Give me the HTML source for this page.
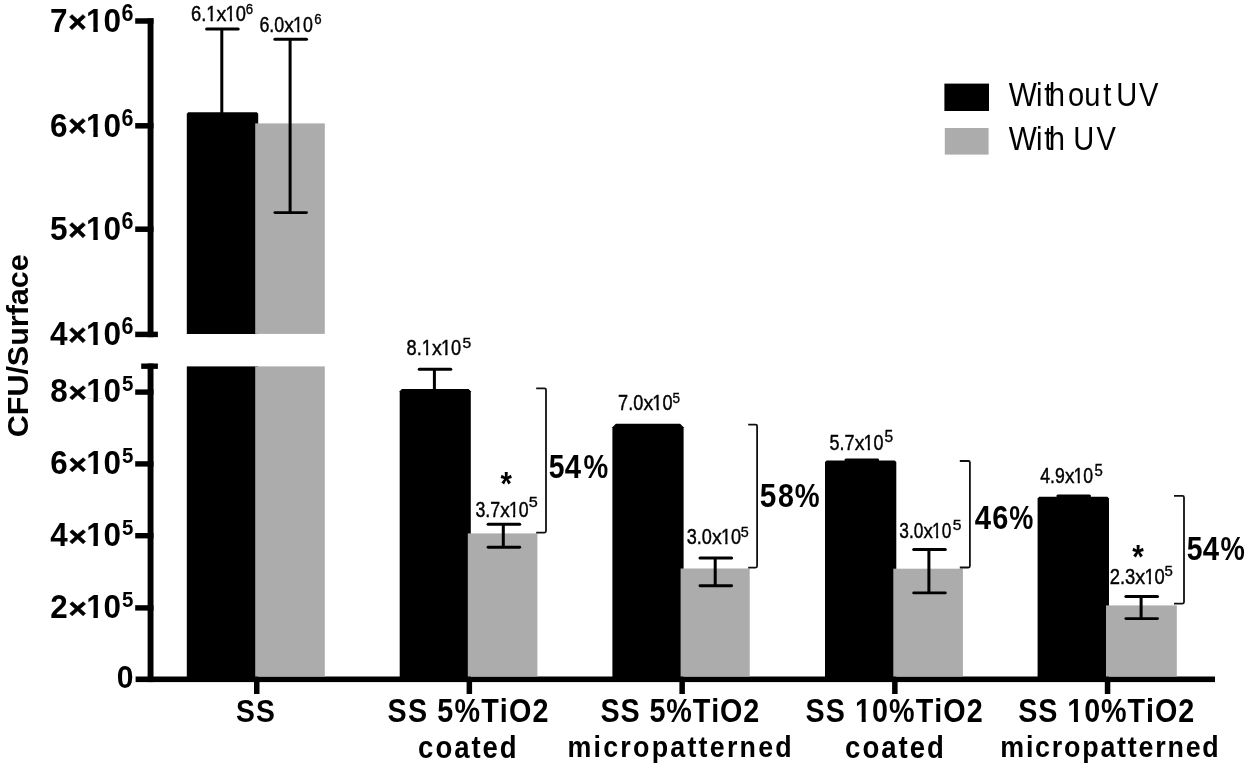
<!DOCTYPE html>
<html><head><meta charset="utf-8"><title>CFU/Surface bar chart</title><style>
html,body{margin:0;padding:0;background:#fff;width:1250px;height:769px;overflow:hidden}
svg{display:block;will-change:transform}
text{font-family:"Liberation Sans",sans-serif}
</style></head><body>
<svg width="1250" height="769" viewBox="0 0 1250 769">
<defs><clipPath id="c10"><rect x="-50" y="-200" width="200" height="195.80"/><rect x="7.72" y="-200" width="4.67" height="210"/></clipPath><clipPath id="c11"><rect x="-50" y="-200" width="200" height="195.90"/><rect x="7.50" y="-200" width="4.54" height="210"/></clipPath><clipPath id="c12"><rect x="-50" y="-200" width="200" height="197.59"/><rect x="5.13" y="-200" width="2.52" height="210"/></clipPath><clipPath id="c13"><rect x="-50" y="-200" width="200" height="197.58"/><rect x="5.16" y="-200" width="2.53" height="210"/></clipPath><clipPath id="c14"><rect x="-50" y="-200" width="200" height="197.60"/><rect x="5.09" y="-200" width="2.51" height="210"/></clipPath><clipPath id="c15"><rect x="-50" y="-200" width="200" height="197.54"/><rect x="5.27" y="-200" width="2.57" height="210"/></clipPath><clipPath id="c16"><rect x="-50" y="-200" width="200" height="197.53"/><rect x="5.32" y="-200" width="2.59" height="210"/></clipPath><clipPath id="c17"><rect x="-50" y="-200" width="200" height="197.52"/><rect x="5.35" y="-200" width="2.60" height="210"/></clipPath><clipPath id="c18"><rect x="-50" y="-200" width="200" height="197.57"/><rect x="5.18" y="-200" width="2.54" height="210"/></clipPath><clipPath id="c19"><rect x="-50" y="-200" width="200" height="197.52"/><rect x="5.35" y="-200" width="2.60" height="210"/></clipPath><clipPath id="c110"><rect x="-50" y="-200" width="200" height="195.87"/><rect x="7.57" y="-200" width="4.58" height="210"/></clipPath></defs>
<rect width="1250" height="769" fill="#fff"/>
<rect x="147.6" y="18.3" width="5.9" height="318.9" fill="#000"/>
<rect x="135.2" y="18.25" width="18.3" height="5.5" fill="#000"/>
<rect x="135.2" y="123.05" width="18.3" height="5.5" fill="#000"/>
<rect x="135.2" y="226.45" width="18.3" height="5.5" fill="#000"/>
<rect x="135.2" y="331.65" width="22.7" height="5.5" fill="#000"/>
<rect x="147.6" y="363.5" width="5.9" height="318.6" fill="#000"/>
<rect x="141.2" y="363.5" width="16.7" height="5.4" fill="#000"/>
<rect x="135.2" y="389.40" width="18.3" height="5.4" fill="#000"/>
<rect x="135.2" y="461.20" width="18.3" height="5.4" fill="#000"/>
<rect x="135.2" y="533.00" width="18.3" height="5.4" fill="#000"/>
<rect x="135.2" y="605.20" width="18.3" height="5.4" fill="#000"/>
<rect x="135.6" y="676.5" width="1079.4" height="5.6" fill="#000"/>
<path d="M186.80,333.90 V113.70 L188.20,112.30 H256.80 L258.20,113.70 V333.90 Z" fill="#000"/>
<rect x="255.2" y="123.4" width="69.60" height="210.50" fill="#acacac"/>
<rect x="186.8" y="366.4" width="71.40" height="312.60" fill="#000"/>
<rect x="255.2" y="366.4" width="69.60" height="310.10" fill="#acacac"/>
<rect x="254.00" y="680" width="5.5" height="14" fill="#000"/>
<path d="M399.70,679.00 V391.20 L401.90,389.00 H468.60 L470.80,391.20 V679.00 Z" fill="#000"/>
<rect x="467.8" y="533.4" width="69.60" height="143.10" fill="#acacac"/>
<rect x="466.60" y="680" width="5.5" height="14" fill="#000"/>
<path d="M612.40,679.00 V427.30 L615.90,423.80 H680.10 L683.60,427.30 V679.00 Z" fill="#000"/>
<rect x="680.6" y="568.5" width="69.10" height="108.00" fill="#acacac"/>
<rect x="679.40" y="680" width="5.5" height="14" fill="#000"/>
<path d="M825.00,679.00 V462.00 L826.60,460.40 H894.70 L896.30,462.00 V679.00 Z" fill="#000"/>
<rect x="893.3" y="568.7" width="69.60" height="107.80" fill="#acacac"/>
<rect x="892.10" y="680" width="5.5" height="14" fill="#000"/>
<path d="M1037.60,679.00 V498.40 L1039.20,496.80 H1107.40 L1109.00,498.40 V679.00 Z" fill="#000"/>
<rect x="1106.0" y="605.4" width="70.80" height="71.10" fill="#acacac"/>
<rect x="1104.80" y="680" width="5.5" height="14" fill="#000"/>
<rect x="220.30" y="28.90" width="3.0" height="84.10" fill="#000"/><line x1="206.60" y1="28.90" x2="238.20" y2="28.90" stroke="#000" stroke-width="3" stroke-linecap="round"/>
<rect x="288.60" y="39.30" width="3.0" height="173.30" fill="#000"/><line x1="274.90" y1="39.30" x2="306.50" y2="39.30" stroke="#000" stroke-width="3" stroke-linecap="round"/><line x1="274.90" y1="212.60" x2="306.50" y2="212.60" stroke="#000" stroke-width="2.9" stroke-linecap="round"/>
<rect x="432.90" y="369.30" width="3.0" height="20.20" fill="#000"/><line x1="419.20" y1="369.30" x2="450.80" y2="369.30" stroke="#000" stroke-width="3" stroke-linecap="round"/>
<rect x="501.80" y="524.30" width="3.0" height="23.00" fill="#000"/><line x1="488.10" y1="524.30" x2="519.70" y2="524.30" stroke="#000" stroke-width="3" stroke-linecap="round"/><line x1="488.10" y1="547.30" x2="519.70" y2="547.30" stroke="#000" stroke-width="2.9" stroke-linecap="round"/>
<rect x="713.70" y="558.00" width="3.0" height="27.80" fill="#000"/><line x1="700.00" y1="558.00" x2="731.60" y2="558.00" stroke="#000" stroke-width="3" stroke-linecap="round"/><line x1="700.00" y1="585.80" x2="731.60" y2="585.80" stroke="#000" stroke-width="2.9" stroke-linecap="round"/>
<rect x="859.70" y="460.00" width="3.0" height="1.00" fill="#000"/><line x1="846.00" y1="460.00" x2="877.60" y2="460.00" stroke="#000" stroke-width="3" stroke-linecap="round"/>
<rect x="927.40" y="549.50" width="3.0" height="43.40" fill="#000"/><line x1="913.70" y1="549.50" x2="945.30" y2="549.50" stroke="#000" stroke-width="3" stroke-linecap="round"/><line x1="913.70" y1="592.90" x2="945.30" y2="592.90" stroke="#000" stroke-width="2.9" stroke-linecap="round"/>
<rect x="1071.60" y="496.10" width="3.0" height="1.40" fill="#000"/><line x1="1057.90" y1="496.10" x2="1089.50" y2="496.10" stroke="#000" stroke-width="3" stroke-linecap="round"/>
<rect x="1139.60" y="596.60" width="3.0" height="22.00" fill="#000"/><line x1="1125.90" y1="596.60" x2="1157.50" y2="596.60" stroke="#000" stroke-width="3" stroke-linecap="round"/><line x1="1125.90" y1="618.60" x2="1157.50" y2="618.60" stroke="#000" stroke-width="2.9" stroke-linecap="round"/>
<path d="M536.2,388.3 H544.5 Q546.0,388.3 546.0,389.8 V531.1 Q546.0,532.6 544.5,532.6 H536.2" fill="none" stroke="#111" stroke-width="1.8"/>
<path d="M748.2,424.6 H755.6 Q757.1,424.6 757.1,426.1 V566.1 Q757.1,567.6 755.6,567.6 H748.2" fill="none" stroke="#111" stroke-width="1.8"/>
<path d="M959.8,461.0 H968.4 Q969.9,461.0 969.9,462.5 V566.0 Q969.9,567.5 968.4,567.5 H959.8" fill="none" stroke="#111" stroke-width="1.8"/>
<path d="M1174.0,495.9 H1182.5 Q1184.0,495.9 1184.0,497.4 V602.1 Q1184.0,603.6 1182.5,603.6 H1174.0" fill="none" stroke="#111" stroke-width="1.8"/>
<rect x="944.4" y="83.6" width="44.6" height="27.4" fill="#000"/>
<rect x="944.8" y="128" width="43.8" height="26.6" fill="#acacac"/>
<text transform="matrix(0.9477,0,0,1.0000,50.04,31.70)" font-family="Liberation Sans, sans-serif" font-weight="bold" font-size="33.29">7</text>
<text transform="matrix(0.9477,0,0,0.8800,68.29,31.57)" font-family="Liberation Sans, sans-serif" font-weight="bold" font-size="33.29" stroke="#000" stroke-width="0.6">×</text>
<text transform="matrix(0.9477,0,0,1.0000,86.01,31.70)" font-family="Liberation Sans, sans-serif" font-weight="bold" font-size="33.29" clip-path="url(#c10)">1</text>
<text transform="matrix(0.9477,0,0,1.0000,103.55,31.70)" font-family="Liberation Sans, sans-serif" font-weight="bold" font-size="33.29">0</text>
<text transform="matrix(0.9477,0,0,1.0000,50.04,136.50)" font-family="Liberation Sans, sans-serif" font-weight="bold" font-size="33.29">6</text>
<text transform="matrix(0.9477,0,0,0.8800,68.29,136.37)" font-family="Liberation Sans, sans-serif" font-weight="bold" font-size="33.29" stroke="#000" stroke-width="0.6">×</text>
<text transform="matrix(0.9477,0,0,1.0000,86.01,136.50)" font-family="Liberation Sans, sans-serif" font-weight="bold" font-size="33.29" clip-path="url(#c10)">1</text>
<text transform="matrix(0.9477,0,0,1.0000,103.55,136.50)" font-family="Liberation Sans, sans-serif" font-weight="bold" font-size="33.29">0</text>
<text transform="matrix(0.9477,0,0,1.0000,50.04,239.90)" font-family="Liberation Sans, sans-serif" font-weight="bold" font-size="33.29">5</text>
<text transform="matrix(0.9477,0,0,0.8800,68.29,239.77)" font-family="Liberation Sans, sans-serif" font-weight="bold" font-size="33.29" stroke="#000" stroke-width="0.6">×</text>
<text transform="matrix(0.9477,0,0,1.0000,86.01,239.90)" font-family="Liberation Sans, sans-serif" font-weight="bold" font-size="33.29" clip-path="url(#c10)">1</text>
<text transform="matrix(0.9477,0,0,1.0000,103.55,239.90)" font-family="Liberation Sans, sans-serif" font-weight="bold" font-size="33.29">0</text>
<text transform="matrix(0.9477,0,0,1.0000,50.04,345.10)" font-family="Liberation Sans, sans-serif" font-weight="bold" font-size="33.29">4</text>
<text transform="matrix(0.9477,0,0,0.8800,68.29,344.97)" font-family="Liberation Sans, sans-serif" font-weight="bold" font-size="33.29" stroke="#000" stroke-width="0.6">×</text>
<text transform="matrix(0.9477,0,0,1.0000,86.01,345.10)" font-family="Liberation Sans, sans-serif" font-weight="bold" font-size="33.29" clip-path="url(#c10)">1</text>
<text transform="matrix(0.9477,0,0,1.0000,103.55,345.10)" font-family="Liberation Sans, sans-serif" font-weight="bold" font-size="33.29">0</text>
<text transform="matrix(0.9121,0,0,1.0000,121.61,20.87)" font-family="Liberation Sans, sans-serif" font-weight="bold" font-size="23.59">6</text>
<text transform="matrix(0.9121,0,0,1.0000,121.61,125.67)" font-family="Liberation Sans, sans-serif" font-weight="bold" font-size="23.59">6</text>
<text transform="matrix(0.9121,0,0,1.0000,121.61,229.07)" font-family="Liberation Sans, sans-serif" font-weight="bold" font-size="23.59">6</text>
<text transform="matrix(0.9121,0,0,1.0000,121.61,334.27)" font-family="Liberation Sans, sans-serif" font-weight="bold" font-size="23.59">6</text>
<text transform="matrix(0.9716,0,0,1.0000,50.30,402.38)" font-family="Liberation Sans, sans-serif" font-weight="bold" font-size="32.34">8</text>
<text transform="matrix(0.9716,0,0,0.8800,68.48,402.29)" font-family="Liberation Sans, sans-serif" font-weight="bold" font-size="32.34" stroke="#000" stroke-width="0.6">×</text>
<text transform="matrix(0.9716,0,0,1.0000,86.13,402.38)" font-family="Liberation Sans, sans-serif" font-weight="bold" font-size="32.34" clip-path="url(#c11)">1</text>
<text transform="matrix(0.9716,0,0,1.0000,103.61,402.38)" font-family="Liberation Sans, sans-serif" font-weight="bold" font-size="32.34">0</text>
<text transform="matrix(0.9716,0,0,1.0000,50.30,474.18)" font-family="Liberation Sans, sans-serif" font-weight="bold" font-size="32.34">6</text>
<text transform="matrix(0.9716,0,0,0.8800,68.48,474.09)" font-family="Liberation Sans, sans-serif" font-weight="bold" font-size="32.34" stroke="#000" stroke-width="0.6">×</text>
<text transform="matrix(0.9716,0,0,1.0000,86.13,474.18)" font-family="Liberation Sans, sans-serif" font-weight="bold" font-size="32.34" clip-path="url(#c11)">1</text>
<text transform="matrix(0.9716,0,0,1.0000,103.61,474.18)" font-family="Liberation Sans, sans-serif" font-weight="bold" font-size="32.34">0</text>
<text transform="matrix(0.9716,0,0,1.0000,50.30,545.98)" font-family="Liberation Sans, sans-serif" font-weight="bold" font-size="32.34">4</text>
<text transform="matrix(0.9716,0,0,0.8800,68.48,545.89)" font-family="Liberation Sans, sans-serif" font-weight="bold" font-size="32.34" stroke="#000" stroke-width="0.6">×</text>
<text transform="matrix(0.9716,0,0,1.0000,86.13,545.98)" font-family="Liberation Sans, sans-serif" font-weight="bold" font-size="32.34" clip-path="url(#c11)">1</text>
<text transform="matrix(0.9716,0,0,1.0000,103.61,545.98)" font-family="Liberation Sans, sans-serif" font-weight="bold" font-size="32.34">0</text>
<text transform="matrix(0.9716,0,0,1.0000,50.30,618.18)" font-family="Liberation Sans, sans-serif" font-weight="bold" font-size="32.34">2</text>
<text transform="matrix(0.9716,0,0,0.8800,68.48,618.09)" font-family="Liberation Sans, sans-serif" font-weight="bold" font-size="32.34" stroke="#000" stroke-width="0.6">×</text>
<text transform="matrix(0.9716,0,0,1.0000,86.13,618.18)" font-family="Liberation Sans, sans-serif" font-weight="bold" font-size="32.34" clip-path="url(#c11)">1</text>
<text transform="matrix(0.9716,0,0,1.0000,103.61,618.18)" font-family="Liberation Sans, sans-serif" font-weight="bold" font-size="32.34">0</text>
<text transform="matrix(0.8996,0,0,1.0000,122.07,391.48)" font-family="Liberation Sans, sans-serif" font-weight="bold" font-size="22.79">5</text>
<text transform="matrix(0.8996,0,0,1.0000,122.07,463.28)" font-family="Liberation Sans, sans-serif" font-weight="bold" font-size="22.79">5</text>
<text transform="matrix(0.8996,0,0,1.0000,122.07,535.08)" font-family="Liberation Sans, sans-serif" font-weight="bold" font-size="22.79">5</text>
<text transform="matrix(0.8996,0,0,1.0000,122.07,607.28)" font-family="Liberation Sans, sans-serif" font-weight="bold" font-size="22.79">5</text>
<text transform="matrix(0.9721,0,0,1.0000,116.81,688.10)" font-family="Liberation Sans, sans-serif" font-weight="bold" font-size="30.93">0</text>
<text transform="matrix(0,-1,0.9847,0,28.29,437.23)" font-family="Liberation Sans, sans-serif" font-weight="bold" font-size="30.48">CFU/Surface</text>
<text transform="matrix(0.8468,0,0,1.0000,190.97,20.89)" font-family="Liberation Sans, sans-serif" font-weight="normal" font-size="21.61" stroke="#000" stroke-width="0.45">6</text>
<text transform="matrix(0.8468,0,0,1.0000,201.15,20.89)" font-family="Liberation Sans, sans-serif" font-weight="normal" font-size="21.61" stroke="#000" stroke-width="0.45">.</text>
<text transform="matrix(0.8468,0,0,1.0000,206.23,20.89)" font-family="Liberation Sans, sans-serif" font-weight="normal" font-size="21.61" clip-path="url(#c12)" stroke="#000" stroke-width="0.45">1</text>
<text transform="matrix(0.9146,0,0,0.9000,216.54,20.89)" font-family="Liberation Sans, sans-serif" font-weight="normal" font-size="21.61" stroke="#000" stroke-width="0.45">x</text>
<text transform="matrix(0.8468,0,0,1.0000,225.56,20.89)" font-family="Liberation Sans, sans-serif" font-weight="normal" font-size="21.61" clip-path="url(#c12)" stroke="#000" stroke-width="0.45">1</text>
<text transform="matrix(0.8468,0,0,1.0000,235.74,20.89)" font-family="Liberation Sans, sans-serif" font-weight="normal" font-size="21.61" stroke="#000" stroke-width="0.45">0</text>
<text transform="matrix(0.8587,0,0,1.0000,245.73,13.65)" font-family="Liberation Sans, sans-serif" font-weight="normal" font-size="15.40" stroke="#000" stroke-width="0.35">6</text>
<text transform="matrix(0.8192,0,0,1.0000,259.40,31.59)" font-family="Liberation Sans, sans-serif" font-weight="normal" font-size="21.75" stroke="#000" stroke-width="0.45">6</text>
<text transform="matrix(0.8192,0,0,1.0000,269.31,31.59)" font-family="Liberation Sans, sans-serif" font-weight="normal" font-size="21.75" stroke="#000" stroke-width="0.45">.</text>
<text transform="matrix(0.8192,0,0,1.0000,274.26,31.59)" font-family="Liberation Sans, sans-serif" font-weight="normal" font-size="21.75" stroke="#000" stroke-width="0.45">0</text>
<text transform="matrix(0.8848,0,0,0.9000,284.31,31.59)" font-family="Liberation Sans, sans-serif" font-weight="normal" font-size="21.75" stroke="#000" stroke-width="0.45">x</text>
<text transform="matrix(0.8192,0,0,1.0000,293.08,31.59)" font-family="Liberation Sans, sans-serif" font-weight="normal" font-size="21.75" clip-path="url(#c13)" stroke="#000" stroke-width="0.45">1</text>
<text transform="matrix(0.8192,0,0,1.0000,302.99,31.59)" font-family="Liberation Sans, sans-serif" font-weight="normal" font-size="21.75" stroke="#000" stroke-width="0.45">0</text>
<text transform="matrix(0.8830,0,0,1.0000,314.33,24.25)" font-family="Liberation Sans, sans-serif" font-weight="normal" font-size="14.97" stroke="#000" stroke-width="0.35">6</text>
<text transform="matrix(0.8471,0,0,1.0000,406.61,355.39)" font-family="Liberation Sans, sans-serif" font-weight="normal" font-size="21.47" stroke="#000" stroke-width="0.45">8</text>
<text transform="matrix(0.8471,0,0,1.0000,416.72,355.39)" font-family="Liberation Sans, sans-serif" font-weight="normal" font-size="21.47" stroke="#000" stroke-width="0.45">.</text>
<text transform="matrix(0.8471,0,0,1.0000,421.78,355.39)" font-family="Liberation Sans, sans-serif" font-weight="normal" font-size="21.47" clip-path="url(#c14)" stroke="#000" stroke-width="0.45">1</text>
<text transform="matrix(0.9148,0,0,0.9000,432.03,355.39)" font-family="Liberation Sans, sans-serif" font-weight="normal" font-size="21.47" stroke="#000" stroke-width="0.45">x</text>
<text transform="matrix(0.8471,0,0,1.0000,440.98,355.39)" font-family="Liberation Sans, sans-serif" font-weight="normal" font-size="21.47" clip-path="url(#c14)" stroke="#000" stroke-width="0.45">1</text>
<text transform="matrix(0.8471,0,0,1.0000,451.10,355.39)" font-family="Liberation Sans, sans-serif" font-weight="normal" font-size="21.47" stroke="#000" stroke-width="0.45">0</text>
<text transform="matrix(1.0372,0,0,1.0000,462.38,347.95)" font-family="Liberation Sans, sans-serif" font-weight="normal" font-size="15.05" stroke="#000" stroke-width="0.35">5</text>
<text transform="matrix(0.7985,0,0,1.0000,475.43,516.58)" font-family="Liberation Sans, sans-serif" font-weight="normal" font-size="22.17" stroke="#000" stroke-width="0.45">3</text>
<text transform="matrix(0.7985,0,0,1.0000,485.27,516.58)" font-family="Liberation Sans, sans-serif" font-weight="normal" font-size="22.17" stroke="#000" stroke-width="0.45">.</text>
<text transform="matrix(0.7985,0,0,1.0000,490.19,516.58)" font-family="Liberation Sans, sans-serif" font-weight="normal" font-size="22.17" stroke="#000" stroke-width="0.45">7</text>
<text transform="matrix(0.8624,0,0,0.9000,500.19,516.58)" font-family="Liberation Sans, sans-serif" font-weight="normal" font-size="22.17" stroke="#000" stroke-width="0.45">x</text>
<text transform="matrix(0.7985,0,0,1.0000,508.90,516.58)" font-family="Liberation Sans, sans-serif" font-weight="normal" font-size="22.17" clip-path="url(#c15)" stroke="#000" stroke-width="0.45">1</text>
<text transform="matrix(0.7985,0,0,1.0000,518.74,516.58)" font-family="Liberation Sans, sans-serif" font-weight="normal" font-size="22.17" stroke="#000" stroke-width="0.45">0</text>
<text transform="matrix(1.1002,0,0,1.0000,528.85,507.36)" font-family="Liberation Sans, sans-serif" font-weight="normal" font-size="14.76" stroke="#000" stroke-width="0.35">5</text>
<text transform="matrix(0.8100,0,0,1.0000,618.07,410.10)" font-family="Liberation Sans, sans-serif" font-weight="normal" font-size="22.38" stroke="#000" stroke-width="0.45">7</text>
<text transform="matrix(0.8100,0,0,1.0000,628.15,410.10)" font-family="Liberation Sans, sans-serif" font-weight="normal" font-size="22.38" stroke="#000" stroke-width="0.45">.</text>
<text transform="matrix(0.8100,0,0,1.0000,633.19,410.10)" font-family="Liberation Sans, sans-serif" font-weight="normal" font-size="22.38" stroke="#000" stroke-width="0.45">0</text>
<text transform="matrix(0.8748,0,0,0.9000,643.41,410.10)" font-family="Liberation Sans, sans-serif" font-weight="normal" font-size="22.38" stroke="#000" stroke-width="0.45">x</text>
<text transform="matrix(0.8100,0,0,1.0000,652.34,410.10)" font-family="Liberation Sans, sans-serif" font-weight="normal" font-size="22.38" clip-path="url(#c16)" stroke="#000" stroke-width="0.45">1</text>
<text transform="matrix(0.8100,0,0,1.0000,662.42,410.10)" font-family="Liberation Sans, sans-serif" font-weight="normal" font-size="22.38" stroke="#000" stroke-width="0.45">0</text>
<text transform="matrix(0.8970,0,0,1.0000,672.46,402.55)" font-family="Liberation Sans, sans-serif" font-weight="normal" font-size="15.05" stroke="#000" stroke-width="0.35">5</text>
<text transform="matrix(0.8186,0,0,1.0000,686.71,543.88)" font-family="Liberation Sans, sans-serif" font-weight="normal" font-size="22.17" stroke="#000" stroke-width="0.45">3</text>
<text transform="matrix(0.8186,0,0,1.0000,696.80,543.88)" font-family="Liberation Sans, sans-serif" font-weight="normal" font-size="22.17" stroke="#000" stroke-width="0.45">.</text>
<text transform="matrix(0.8186,0,0,1.0000,701.85,543.88)" font-family="Liberation Sans, sans-serif" font-weight="normal" font-size="22.17" stroke="#000" stroke-width="0.45">0</text>
<text transform="matrix(0.8841,0,0,0.9000,712.08,543.88)" font-family="Liberation Sans, sans-serif" font-weight="normal" font-size="22.17" stroke="#000" stroke-width="0.45">x</text>
<text transform="matrix(0.8186,0,0,1.0000,721.02,543.88)" font-family="Liberation Sans, sans-serif" font-weight="normal" font-size="22.17" clip-path="url(#c15)" stroke="#000" stroke-width="0.45">1</text>
<text transform="matrix(0.8186,0,0,1.0000,731.11,543.88)" font-family="Liberation Sans, sans-serif" font-weight="normal" font-size="22.17" stroke="#000" stroke-width="0.45">0</text>
<text transform="matrix(0.9531,0,0,1.0000,740.83,536.55)" font-family="Liberation Sans, sans-serif" font-weight="normal" font-size="15.05" stroke="#000" stroke-width="0.35">5</text>
<text transform="matrix(0.7981,0,0,1.0000,829.58,449.88)" font-family="Liberation Sans, sans-serif" font-weight="normal" font-size="22.50" stroke="#000" stroke-width="0.45">5</text>
<text transform="matrix(0.7981,0,0,1.0000,839.57,449.88)" font-family="Liberation Sans, sans-serif" font-weight="normal" font-size="22.50" stroke="#000" stroke-width="0.45">.</text>
<text transform="matrix(0.7981,0,0,1.0000,844.56,449.88)" font-family="Liberation Sans, sans-serif" font-weight="normal" font-size="22.50" stroke="#000" stroke-width="0.45">7</text>
<text transform="matrix(0.8620,0,0,0.9000,854.69,449.88)" font-family="Liberation Sans, sans-serif" font-weight="normal" font-size="22.50" stroke="#000" stroke-width="0.45">x</text>
<text transform="matrix(0.7981,0,0,1.0000,863.53,449.88)" font-family="Liberation Sans, sans-serif" font-weight="normal" font-size="22.50" clip-path="url(#c17)" stroke="#000" stroke-width="0.45">1</text>
<text transform="matrix(0.7981,0,0,1.0000,873.51,449.88)" font-family="Liberation Sans, sans-serif" font-weight="normal" font-size="22.50" stroke="#000" stroke-width="0.45">0</text>
<text transform="matrix(0.9991,0,0,1.0000,884.38,442.25)" font-family="Liberation Sans, sans-serif" font-weight="normal" font-size="15.62" stroke="#000" stroke-width="0.35">5</text>
<text transform="matrix(0.8004,0,0,1.0000,899.34,537.79)" font-family="Liberation Sans, sans-serif" font-weight="normal" font-size="21.61" stroke="#000" stroke-width="0.45">3</text>
<text transform="matrix(0.8004,0,0,1.0000,908.96,537.79)" font-family="Liberation Sans, sans-serif" font-weight="normal" font-size="21.61" stroke="#000" stroke-width="0.45">.</text>
<text transform="matrix(0.8004,0,0,1.0000,913.77,537.79)" font-family="Liberation Sans, sans-serif" font-weight="normal" font-size="21.61" stroke="#000" stroke-width="0.45">0</text>
<text transform="matrix(0.8645,0,0,0.9000,923.54,537.79)" font-family="Liberation Sans, sans-serif" font-weight="normal" font-size="21.61" stroke="#000" stroke-width="0.45">x</text>
<text transform="matrix(0.8004,0,0,1.0000,932.04,537.79)" font-family="Liberation Sans, sans-serif" font-weight="normal" font-size="21.61" clip-path="url(#c12)" stroke="#000" stroke-width="0.45">1</text>
<text transform="matrix(0.8004,0,0,1.0000,941.66,537.79)" font-family="Liberation Sans, sans-serif" font-weight="normal" font-size="21.61" stroke="#000" stroke-width="0.45">0</text>
<text transform="matrix(1.0274,0,0,1.0000,952.78,530.25)" font-family="Liberation Sans, sans-serif" font-weight="normal" font-size="15.19" stroke="#000" stroke-width="0.35">5</text>
<text transform="matrix(0.8096,0,0,1.0000,1040.19,483.10)" font-family="Liberation Sans, sans-serif" font-weight="normal" font-size="21.80" stroke="#000" stroke-width="0.45">4</text>
<text transform="matrix(0.8096,0,0,1.0000,1050.01,483.10)" font-family="Liberation Sans, sans-serif" font-weight="normal" font-size="21.80" stroke="#000" stroke-width="0.45">.</text>
<text transform="matrix(0.8096,0,0,1.0000,1054.92,483.10)" font-family="Liberation Sans, sans-serif" font-weight="normal" font-size="21.80" stroke="#000" stroke-width="0.45">9</text>
<text transform="matrix(0.8743,0,0,0.9000,1064.88,483.10)" font-family="Liberation Sans, sans-serif" font-weight="normal" font-size="21.80" stroke="#000" stroke-width="0.45">x</text>
<text transform="matrix(0.8096,0,0,1.0000,1073.56,483.10)" font-family="Liberation Sans, sans-serif" font-weight="normal" font-size="21.80" clip-path="url(#c18)" stroke="#000" stroke-width="0.45">1</text>
<text transform="matrix(0.8096,0,0,1.0000,1083.37,483.10)" font-family="Liberation Sans, sans-serif" font-weight="normal" font-size="21.80" stroke="#000" stroke-width="0.45">0</text>
<text transform="matrix(0.9586,0,0,1.0000,1094.40,475.65)" font-family="Liberation Sans, sans-serif" font-weight="normal" font-size="15.62" stroke="#000" stroke-width="0.35">5</text>
<text transform="matrix(0.8168,0,0,1.0000,1109.68,583.70)" font-family="Liberation Sans, sans-serif" font-weight="normal" font-size="22.49" stroke="#000" stroke-width="0.45">2</text>
<text transform="matrix(0.8168,0,0,1.0000,1119.89,583.70)" font-family="Liberation Sans, sans-serif" font-weight="normal" font-size="22.49" stroke="#000" stroke-width="0.45">.</text>
<text transform="matrix(0.8168,0,0,1.0000,1124.99,583.70)" font-family="Liberation Sans, sans-serif" font-weight="normal" font-size="22.49" stroke="#000" stroke-width="0.45">3</text>
<text transform="matrix(0.8821,0,0,0.9000,1135.34,583.70)" font-family="Liberation Sans, sans-serif" font-weight="normal" font-size="22.49" stroke="#000" stroke-width="0.45">x</text>
<text transform="matrix(0.8168,0,0,1.0000,1144.39,583.70)" font-family="Liberation Sans, sans-serif" font-weight="normal" font-size="22.49" clip-path="url(#c19)" stroke="#000" stroke-width="0.45">1</text>
<text transform="matrix(0.8168,0,0,1.0000,1154.60,583.70)" font-family="Liberation Sans, sans-serif" font-weight="normal" font-size="22.49" stroke="#000" stroke-width="0.45">0</text>
<text transform="matrix(0.9857,0,0,1.0000,1164.40,575.55)" font-family="Liberation Sans, sans-serif" font-weight="normal" font-size="15.19" stroke="#000" stroke-width="0.35">5</text>
<text transform="matrix(0.9019,0,0,1.0000,500.41,494.77)" font-family="Liberation Sans, sans-serif" font-weight="bold" font-size="32.52">*</text>
<text transform="matrix(0.9030,0,0,1.0000,1132.21,567.94)" font-family="Liberation Sans, sans-serif" font-weight="bold" font-size="33.06">*</text>
<text transform="matrix(0.8800,0,0,1.0000,235.98,721.59)" font-family="Liberation Sans, sans-serif" font-weight="bold" font-size="32.20">S</text>
<text transform="matrix(0.8800,0,0,1.0000,256.11,721.59)" font-family="Liberation Sans, sans-serif" font-weight="bold" font-size="32.20">S</text>
<text transform="matrix(0.8800,0,0,1.0000,387.57,721.58)" font-family="Liberation Sans, sans-serif" font-weight="bold" font-size="32.63">S</text>
<text transform="matrix(0.8800,0,0,1.0000,407.88,721.58)" font-family="Liberation Sans, sans-serif" font-weight="bold" font-size="32.63">S</text>
<text transform="matrix(0.8800,0,0,1.0000,437.33,721.58)" font-family="Liberation Sans, sans-serif" font-weight="bold" font-size="32.63">5</text>
<text transform="matrix(0.8800,0,0,1.0000,454.46,721.58)" font-family="Liberation Sans, sans-serif" font-weight="bold" font-size="32.63">%</text>
<text transform="matrix(0.8800,0,0,1.0000,481.15,721.58)" font-family="Liberation Sans, sans-serif" font-weight="bold" font-size="32.63">T</text>
<text transform="matrix(0.8800,0,0,1.0000,499.85,721.58)" font-family="Liberation Sans, sans-serif" font-weight="bold" font-size="32.63">i</text>
<text transform="matrix(0.8800,0,0,1.0000,508.99,721.58)" font-family="Liberation Sans, sans-serif" font-weight="bold" font-size="32.63">O</text>
<text transform="matrix(0.8800,0,0,1.0000,532.48,721.58)" font-family="Liberation Sans, sans-serif" font-weight="bold" font-size="32.63">2</text>
<text transform="matrix(0.9000,0,0,1.0000,418.12,757.60)" font-family="Liberation Sans, sans-serif" font-weight="bold" font-size="30.64">c</text>
<text transform="matrix(0.9000,0,0,1.0000,435.40,757.60)" font-family="Liberation Sans, sans-serif" font-weight="bold" font-size="30.64">o</text>
<text transform="matrix(0.9000,0,0,1.0000,454.19,757.60)" font-family="Liberation Sans, sans-serif" font-weight="bold" font-size="30.64">a</text>
<text transform="matrix(0.9000,0,0,1.0000,471.47,757.60)" font-family="Liberation Sans, sans-serif" font-weight="bold" font-size="30.64">t</text>
<text transform="matrix(0.9000,0,0,1.0000,482.59,757.60)" font-family="Liberation Sans, sans-serif" font-weight="bold" font-size="30.64">e</text>
<text transform="matrix(0.9000,0,0,1.0000,499.87,757.60)" font-family="Liberation Sans, sans-serif" font-weight="bold" font-size="30.64">d</text>
<text transform="matrix(0.8800,0,0,1.0000,600.57,721.58)" font-family="Liberation Sans, sans-serif" font-weight="bold" font-size="32.63">S</text>
<text transform="matrix(0.8800,0,0,1.0000,620.60,721.58)" font-family="Liberation Sans, sans-serif" font-weight="bold" font-size="32.63">S</text>
<text transform="matrix(0.8800,0,0,1.0000,649.47,721.58)" font-family="Liberation Sans, sans-serif" font-weight="bold" font-size="32.63">5</text>
<text transform="matrix(0.8800,0,0,1.0000,666.31,721.58)" font-family="Liberation Sans, sans-serif" font-weight="bold" font-size="32.63">%</text>
<text transform="matrix(0.8800,0,0,1.0000,692.71,721.58)" font-family="Liberation Sans, sans-serif" font-weight="bold" font-size="32.63">T</text>
<text transform="matrix(0.8800,0,0,1.0000,711.13,721.58)" font-family="Liberation Sans, sans-serif" font-weight="bold" font-size="32.63">i</text>
<text transform="matrix(0.8800,0,0,1.0000,719.98,721.58)" font-family="Liberation Sans, sans-serif" font-weight="bold" font-size="32.63">O</text>
<text transform="matrix(0.8800,0,0,1.0000,743.18,721.58)" font-family="Liberation Sans, sans-serif" font-weight="bold" font-size="32.63">2</text>
<text transform="matrix(0.9000,0,0,1.0000,567.43,757.21)" font-family="Liberation Sans, sans-serif" font-weight="bold" font-size="29.82">m</text>
<text transform="matrix(0.9000,0,0,1.0000,593.52,757.21)" font-family="Liberation Sans, sans-serif" font-weight="bold" font-size="29.82">i</text>
<text transform="matrix(0.9000,0,0,1.0000,603.21,757.21)" font-family="Liberation Sans, sans-serif" font-weight="bold" font-size="29.82">c</text>
<text transform="matrix(0.9000,0,0,1.0000,620.36,757.21)" font-family="Liberation Sans, sans-serif" font-weight="bold" font-size="29.82">r</text>
<text transform="matrix(0.9000,0,0,1.0000,633.04,757.21)" font-family="Liberation Sans, sans-serif" font-weight="bold" font-size="29.82">o</text>
<text transform="matrix(0.9000,0,0,1.0000,651.66,757.21)" font-family="Liberation Sans, sans-serif" font-weight="bold" font-size="29.82">p</text>
<text transform="matrix(0.9000,0,0,1.0000,670.28,757.21)" font-family="Liberation Sans, sans-serif" font-weight="bold" font-size="29.82">a</text>
<text transform="matrix(0.9000,0,0,1.0000,687.44,757.21)" font-family="Liberation Sans, sans-serif" font-weight="bold" font-size="29.82">t</text>
<text transform="matrix(0.9000,0,0,1.0000,698.60,757.21)" font-family="Liberation Sans, sans-serif" font-weight="bold" font-size="29.82">t</text>
<text transform="matrix(0.9000,0,0,1.0000,709.77,757.21)" font-family="Liberation Sans, sans-serif" font-weight="bold" font-size="29.82">e</text>
<text transform="matrix(0.9000,0,0,1.0000,726.92,757.21)" font-family="Liberation Sans, sans-serif" font-weight="bold" font-size="29.82">r</text>
<text transform="matrix(0.9000,0,0,1.0000,739.60,757.21)" font-family="Liberation Sans, sans-serif" font-weight="bold" font-size="29.82">n</text>
<text transform="matrix(0.9000,0,0,1.0000,758.22,757.21)" font-family="Liberation Sans, sans-serif" font-weight="bold" font-size="29.82">e</text>
<text transform="matrix(0.9000,0,0,1.0000,775.37,757.21)" font-family="Liberation Sans, sans-serif" font-weight="bold" font-size="29.82">d</text>
<text transform="matrix(0.8800,0,0,1.0000,805.57,721.58)" font-family="Liberation Sans, sans-serif" font-weight="bold" font-size="32.63">S</text>
<text transform="matrix(0.8800,0,0,1.0000,825.78,721.58)" font-family="Liberation Sans, sans-serif" font-weight="bold" font-size="32.63">S</text>
<text transform="matrix(0.8800,0,0,1.0000,855.02,721.58)" font-family="Liberation Sans, sans-serif" font-weight="bold" font-size="32.63" clip-path="url(#c110)">1</text>
<text transform="matrix(0.8800,0,0,1.0000,872.05,721.58)" font-family="Liberation Sans, sans-serif" font-weight="bold" font-size="32.63">0</text>
<text transform="matrix(0.8800,0,0,1.0000,889.07,721.58)" font-family="Liberation Sans, sans-serif" font-weight="bold" font-size="32.63">%</text>
<text transform="matrix(0.8800,0,0,1.0000,915.66,721.58)" font-family="Liberation Sans, sans-serif" font-weight="bold" font-size="32.63">T</text>
<text transform="matrix(0.8800,0,0,1.0000,934.26,721.58)" font-family="Liberation Sans, sans-serif" font-weight="bold" font-size="32.63">i</text>
<text transform="matrix(0.8800,0,0,1.0000,943.29,721.58)" font-family="Liberation Sans, sans-serif" font-weight="bold" font-size="32.63">O</text>
<text transform="matrix(0.8800,0,0,1.0000,966.68,721.58)" font-family="Liberation Sans, sans-serif" font-weight="bold" font-size="32.63">2</text>
<text transform="matrix(0.9000,0,0,1.0000,845.12,757.60)" font-family="Liberation Sans, sans-serif" font-weight="bold" font-size="30.64">c</text>
<text transform="matrix(0.9000,0,0,1.0000,862.42,757.60)" font-family="Liberation Sans, sans-serif" font-weight="bold" font-size="30.64">o</text>
<text transform="matrix(0.9000,0,0,1.0000,881.23,757.60)" font-family="Liberation Sans, sans-serif" font-weight="bold" font-size="30.64">a</text>
<text transform="matrix(0.9000,0,0,1.0000,898.53,757.60)" font-family="Liberation Sans, sans-serif" font-weight="bold" font-size="30.64">t</text>
<text transform="matrix(0.9000,0,0,1.0000,909.67,757.60)" font-family="Liberation Sans, sans-serif" font-weight="bold" font-size="30.64">e</text>
<text transform="matrix(0.9000,0,0,1.0000,926.97,757.60)" font-family="Liberation Sans, sans-serif" font-weight="bold" font-size="30.64">d</text>
<text transform="matrix(0.8800,0,0,1.0000,1018.17,721.58)" font-family="Liberation Sans, sans-serif" font-weight="bold" font-size="32.63">S</text>
<text transform="matrix(0.8800,0,0,1.0000,1038.26,721.58)" font-family="Liberation Sans, sans-serif" font-weight="bold" font-size="32.63">S</text>
<text transform="matrix(0.8800,0,0,1.0000,1067.26,721.58)" font-family="Liberation Sans, sans-serif" font-weight="bold" font-size="32.63" clip-path="url(#c110)">1</text>
<text transform="matrix(0.8800,0,0,1.0000,1084.16,721.58)" font-family="Liberation Sans, sans-serif" font-weight="bold" font-size="32.63">0</text>
<text transform="matrix(0.8800,0,0,1.0000,1101.06,721.58)" font-family="Liberation Sans, sans-serif" font-weight="bold" font-size="32.63">%</text>
<text transform="matrix(0.8800,0,0,1.0000,1127.53,721.58)" font-family="Liberation Sans, sans-serif" font-weight="bold" font-size="32.63">T</text>
<text transform="matrix(0.8800,0,0,1.0000,1146.00,721.58)" font-family="Liberation Sans, sans-serif" font-weight="bold" font-size="32.63">i</text>
<text transform="matrix(0.8800,0,0,1.0000,1154.91,721.58)" font-family="Liberation Sans, sans-serif" font-weight="bold" font-size="32.63">O</text>
<text transform="matrix(0.8800,0,0,1.0000,1178.18,721.58)" font-family="Liberation Sans, sans-serif" font-weight="bold" font-size="32.63">2</text>
<text transform="matrix(0.9000,0,0,1.0000,1000.23,757.21)" font-family="Liberation Sans, sans-serif" font-weight="bold" font-size="29.82">m</text>
<text transform="matrix(0.9000,0,0,1.0000,1025.88,757.21)" font-family="Liberation Sans, sans-serif" font-weight="bold" font-size="29.82">i</text>
<text transform="matrix(0.9000,0,0,1.0000,1035.12,757.21)" font-family="Liberation Sans, sans-serif" font-weight="bold" font-size="29.82">c</text>
<text transform="matrix(0.9000,0,0,1.0000,1051.83,757.21)" font-family="Liberation Sans, sans-serif" font-weight="bold" font-size="29.82">r</text>
<text transform="matrix(0.9000,0,0,1.0000,1064.05,757.21)" font-family="Liberation Sans, sans-serif" font-weight="bold" font-size="29.82">o</text>
<text transform="matrix(0.9000,0,0,1.0000,1082.23,757.21)" font-family="Liberation Sans, sans-serif" font-weight="bold" font-size="29.82">p</text>
<text transform="matrix(0.9000,0,0,1.0000,1100.41,757.21)" font-family="Liberation Sans, sans-serif" font-weight="bold" font-size="29.82">a</text>
<text transform="matrix(0.9000,0,0,1.0000,1117.11,757.21)" font-family="Liberation Sans, sans-serif" font-weight="bold" font-size="29.82">t</text>
<text transform="matrix(0.9000,0,0,1.0000,1127.83,757.21)" font-family="Liberation Sans, sans-serif" font-weight="bold" font-size="29.82">t</text>
<text transform="matrix(0.9000,0,0,1.0000,1138.55,757.21)" font-family="Liberation Sans, sans-serif" font-weight="bold" font-size="29.82">e</text>
<text transform="matrix(0.9000,0,0,1.0000,1155.26,757.21)" font-family="Liberation Sans, sans-serif" font-weight="bold" font-size="29.82">r</text>
<text transform="matrix(0.9000,0,0,1.0000,1167.49,757.21)" font-family="Liberation Sans, sans-serif" font-weight="bold" font-size="29.82">n</text>
<text transform="matrix(0.9000,0,0,1.0000,1185.66,757.21)" font-family="Liberation Sans, sans-serif" font-weight="bold" font-size="29.82">e</text>
<text transform="matrix(0.9000,0,0,1.0000,1202.37,757.21)" font-family="Liberation Sans, sans-serif" font-weight="bold" font-size="29.82">d</text>
<text transform="matrix(0.9100,0,0,1,1008.67,106.00)" font-family="Liberation Sans, sans-serif" font-weight="normal" font-size="32.70">W</text>
<text transform="matrix(0.8900,0,0,1,1036.05,106.00)" font-family="Liberation Sans, sans-serif" font-weight="normal" font-size="32.70">i</text>
<text transform="matrix(0.8900,0,0,1,1044.26,106.00)" font-family="Liberation Sans, sans-serif" font-weight="normal" font-size="32.70">t</text>
<text transform="matrix(0.8900,0,0,1,1048.78,106.00)" font-family="Liberation Sans, sans-serif" font-weight="normal" font-size="32.70">h</text>
<text transform="matrix(0.8900,0,0,1,1068.08,106.00)" font-family="Liberation Sans, sans-serif" font-weight="normal" font-size="32.70">o</text>
<text transform="matrix(0.8900,0,0,1,1084.21,106.00)" font-family="Liberation Sans, sans-serif" font-weight="normal" font-size="32.70">u</text>
<text transform="matrix(0.8900,0,0,1,1103.26,106.00)" font-family="Liberation Sans, sans-serif" font-weight="normal" font-size="32.70">t</text>
<text transform="matrix(0.8900,0,0,1,1116.15,106.00)" font-family="Liberation Sans, sans-serif" font-weight="normal" font-size="32.70">U</text>
<text transform="matrix(0.8900,0,0,1,1139.07,106.00)" font-family="Liberation Sans, sans-serif" font-weight="normal" font-size="32.70">V</text>
<text transform="matrix(0.9100,0,0,1,1008.67,150.00)" font-family="Liberation Sans, sans-serif" font-weight="normal" font-size="32.70">W</text>
<text transform="matrix(0.8900,0,0,1,1035.95,150.00)" font-family="Liberation Sans, sans-serif" font-weight="normal" font-size="32.70">i</text>
<text transform="matrix(0.8900,0,0,1,1044.36,150.00)" font-family="Liberation Sans, sans-serif" font-weight="normal" font-size="32.70">t</text>
<text transform="matrix(0.8900,0,0,1,1048.78,150.00)" font-family="Liberation Sans, sans-serif" font-weight="normal" font-size="32.70">h</text>
<text transform="matrix(0.8900,0,0,1,1073.35,150.00)" font-family="Liberation Sans, sans-serif" font-weight="normal" font-size="32.70">U</text>
<text transform="matrix(0.8900,0,0,1,1096.57,150.00)" font-family="Liberation Sans, sans-serif" font-weight="normal" font-size="32.70">V</text>
<text transform="matrix(0.8587,0,0,1,548.73,478.30)" font-family="Liberation Sans, sans-serif" font-weight="bold" font-size="33.00">5</text>
<text transform="matrix(0.8882,0,0,1,564.86,478.30)" font-family="Liberation Sans, sans-serif" font-weight="bold" font-size="33.00">4</text>
<text transform="matrix(0.8427,0,0,1,583.51,478.30)" font-family="Liberation Sans, sans-serif" font-weight="bold" font-size="33.00">%</text>
<text transform="matrix(0.9014,0,0,1,759.68,507.20)" font-family="Liberation Sans, sans-serif" font-weight="bold" font-size="33.00">5</text>
<text transform="matrix(0.8655,0,0,1,777.99,507.20)" font-family="Liberation Sans, sans-serif" font-weight="bold" font-size="33.00">8</text>
<text transform="matrix(0.8463,0,0,1,794.80,507.20)" font-family="Liberation Sans, sans-serif" font-weight="bold" font-size="33.00">%</text>
<text transform="matrix(0.8882,0,0,1,974.76,528.60)" font-family="Liberation Sans, sans-serif" font-weight="bold" font-size="33.00">4</text>
<text transform="matrix(0.8776,0,0,1,992.14,528.60)" font-family="Liberation Sans, sans-serif" font-weight="bold" font-size="33.00">6</text>
<text transform="matrix(0.8210,0,0,1,1009.13,528.60)" font-family="Liberation Sans, sans-serif" font-weight="bold" font-size="33.00">%</text>
<text transform="matrix(0.8587,0,0,1,1186.73,560.40)" font-family="Liberation Sans, sans-serif" font-weight="bold" font-size="33.00">5</text>
<text transform="matrix(0.8882,0,0,1,1202.86,560.40)" font-family="Liberation Sans, sans-serif" font-weight="bold" font-size="33.00">4</text>
<text transform="matrix(0.8282,0,0,1,1220.52,560.40)" font-family="Liberation Sans, sans-serif" font-weight="bold" font-size="33.00">%</text>
</svg>
</body></html>
